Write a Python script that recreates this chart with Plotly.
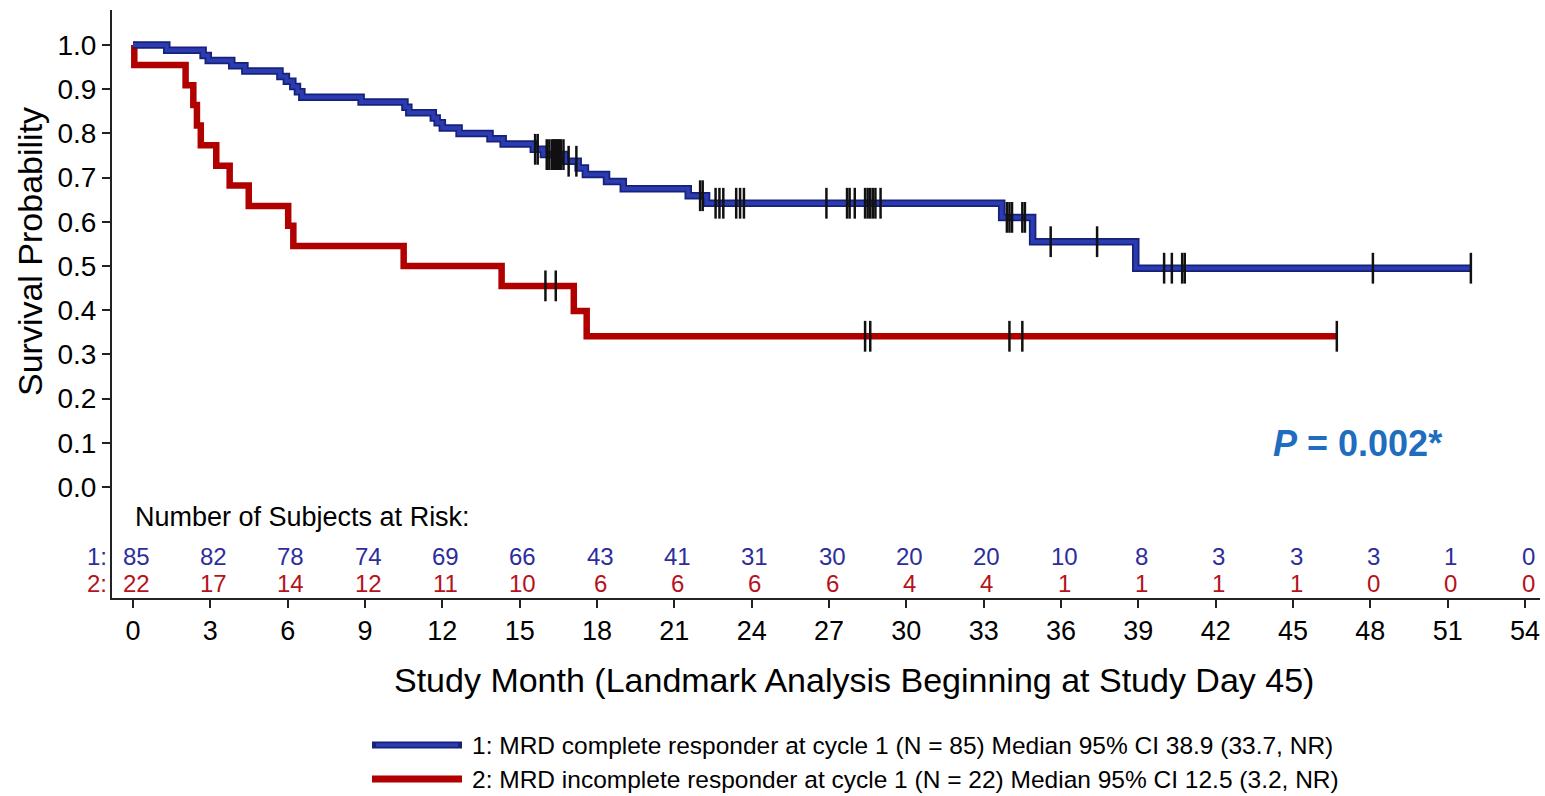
import numpy as np
import plotly.graph_objects as go

# ---------------- data ----------------
# Group 1: MRD complete responder (N=85) - KM step times (months) and survival
g1_times = [0, 1.31, 2.72, 2.92, 3.83, 4.34, 5.70, 5.95, 6.20, 6.38, 6.55, 8.85,
            10.55, 10.70, 11.65, 11.80, 12.00, 12.65, 13.85, 14.36, 15.53, 15.92,
            16.76, 17.27, 17.55, 18.37, 19.02, 21.54, 22.25, 33.70, 34.90, 38.90]
g1_surv = [1.000, 0.988, 0.976, 0.965, 0.953, 0.941, 0.929, 0.918, 0.906, 0.894, 0.882, 0.871,
           0.859, 0.847, 0.835, 0.824, 0.812, 0.800, 0.788, 0.776, 0.764, 0.752,
           0.737, 0.722, 0.707, 0.691, 0.675, 0.659, 0.642, 0.610, 0.555, 0.495]
g1_end = 51.9
g1_censor = [15.6, 15.7, 16.05, 16.15, 16.25, 16.3, 16.35, 16.4, 16.45, 16.5, 16.55, 16.6,
             16.7, 16.9, 17.2, 22.0, 22.1, 22.6, 22.75, 22.9, 23.4, 23.55, 23.7, 26.9,
             27.7, 27.8, 28.0, 28.4, 28.5, 28.6, 28.7, 28.8, 29.0, 33.9, 34.0, 34.1,
             34.5, 34.6, 35.6, 37.4, 40.0, 40.3, 40.7, 40.8, 48.1, 51.9]

# Group 2: MRD incomplete responder (N=22)
g2_times = [0, 0.05, 2.04, 2.34, 2.48, 2.63, 3.23, 3.75, 4.49, 6.02, 6.22, 10.50, 14.30, 17.10, 17.60]
g2_surv = [1.000, 0.955, 0.909, 0.864, 0.818, 0.773, 0.727, 0.682, 0.636, 0.591, 0.545, 0.500,
           0.455, 0.398, 0.341]
g2_end = 46.7
g2_censor = [16.0, 16.4, 28.4, 28.6, 34.0, 34.5, 46.7]

# Number at risk table
risk_months = [0, 3, 6, 9, 12, 15, 18, 21, 24, 27, 30, 33, 36, 39, 42, 45, 48, 51, 54]
risk_g1 = [85, 82, 78, 74, 69, 66, 43, 41, 31, 30, 20, 20, 10, 8, 3, 3, 3, 1, 0]
risk_g2 = [22, 17, 14, 12, 11, 10, 6, 6, 6, 6, 4, 4, 1, 1, 1, 1, 0, 0, 0]

y_ticks = [0.0, 0.1, 0.2, 0.3, 0.4, 0.5, 0.6, 0.7, 0.8, 0.9, 1.0]

legend_g1 = "1: MRD complete responder at cycle 1 (N = 85) Median 95% CI 38.9 (33.7, NR)"
legend_g2 = "2: MRD incomplete responder at cycle 1 (N = 22) Median 95% CI 12.5 (3.2, NR)"
p_text = "<i>P</i> = 0.002*"

# ---------------- styles ----------------
FONT = "Liberation Sans, Arial, Helvetica, sans-serif"
BLUE_DARK = "#17207a"
BLUE = "#2b3cb0"
RED = "#b00000"
BLUE_TXT = "#2d2d9c"
RED_TXT = "#b5121b"
P_BLUE = "#1f6dbf"

W, H = 1545, 796
L, R, T, B = 112, 5, 10, 198
PW, PH = W - L - R, H - T - B


def px_x(px):
    return (px - L) / PW


def px_y(py):
    return (H - B - py) / PH


def step_value(times, surv, t):
    i = np.searchsorted(np.array(times), t, side="right") - 1
    return surv[max(i, 0)]


fig = go.Figure()

# red curve
fig.add_trace(go.Scatter(x=g2_times + [g2_end], y=g2_surv + [g2_surv[-1]], mode="lines",
                         line=dict(color=RED, width=6.5, shape="hv"), showlegend=False,
                         hoverinfo="skip"))
# blue curve (outline + fill)
fig.add_trace(go.Scatter(x=g1_times + [g1_end], y=g1_surv + [g1_surv[-1]], mode="lines",
                         line=dict(color=BLUE_DARK, width=7.5, shape="hv"), showlegend=False,
                         hoverinfo="skip"))
fig.add_trace(go.Scatter(x=g1_times + [g1_end], y=g1_surv + [g1_surv[-1]], mode="lines",
                         line=dict(color=BLUE, width=4, shape="hv"), showlegend=False,
                         hoverinfo="skip"))

# censor marks
for times, surv, cens in [(g2_times, g2_surv, g2_censor), (g1_times, g1_surv, g1_censor)]:
    fig.add_trace(go.Scatter(x=cens, y=[step_value(times, surv, c) for c in cens], mode="markers",
                             marker=dict(symbol="line-ns", size=22,
                                         line=dict(color="#111111", width=2.5)),
                             showlegend=False, hoverinfo="skip"))

RISK_SIZE = 24
ann = []
# risk table
ann.append(dict(x=px_x(133), y=px_y(517), xref="paper", yref="paper", text="Number of Subjects at Risk:",
                showarrow=False, xanchor="left", yanchor="middle",
                font=dict(family=FONT, size=27, color="black")))
ann.append(dict(x=px_x(109), y=px_y(556), xref="paper", yref="paper", text="1:", showarrow=False,
                xanchor="right", yanchor="middle", font=dict(family=FONT, size=RISK_SIZE, color=BLUE_TXT)))
ann.append(dict(x=px_x(109), y=px_y(583), xref="paper", yref="paper", text="2:", showarrow=False,
                xanchor="right", yanchor="middle", font=dict(family=FONT, size=RISK_SIZE, color=RED_TXT)))
for m, a, b in zip(risk_months, risk_g1, risk_g2):
    ann.append(dict(x=m, y=px_y(556), xref="x", yref="paper", text=str(a), showarrow=False,
                    xanchor="center", yanchor="middle", xshift=3,
                    font=dict(family=FONT, size=RISK_SIZE, color=BLUE_TXT)))
    ann.append(dict(x=m, y=px_y(583), xref="x", yref="paper", text=str(b), showarrow=False,
                    xanchor="center", yanchor="middle", xshift=3,
                    font=dict(family=FONT, size=RISK_SIZE, color=RED_TXT)))

# axis titles
ann.append(dict(x=px_x(30), y=px_y(252), xref="paper", yref="paper", text="Survival Probability",
                showarrow=False, textangle=-90, xanchor="center", yanchor="middle",
                font=dict(family=FONT, size=34, color="black")))
ann.append(dict(x=px_x(854), y=px_y(680), xref="paper", yref="paper",
                text="Study Month (Landmark Analysis Beginning at Study Day 45)",
                showarrow=False, xanchor="center", yanchor="middle",
                font=dict(family=FONT, size=34, color="black")))

# p-value
ann.append(dict(x=px_x(1357), y=px_y(443), xref="paper", yref="paper", text="<b>" + p_text + "</b>",
                showarrow=False, xanchor="center", yanchor="middle",
                font=dict(family=FONT, size=36, color=P_BLUE)))

# legend
shapes = []
for py, col, txt in [(745, BLUE_DARK, legend_g1), (779, RED, legend_g2)]:
    shapes.append(dict(type="line", xref="paper", yref="paper", x0=px_x(372), x1=px_x(462),
                       y0=px_y(py), y1=px_y(py), line=dict(color=col, width=7)))
    ann.append(dict(x=px_x(470), y=px_y(py), xref="paper", yref="paper", text=txt, showarrow=False,
                    xanchor="left", yanchor="middle", font=dict(family=FONT, size=24.5, color="black")))
shapes.append(dict(type="line", xref="paper", yref="paper", x0=px_x(376), x1=px_x(458),
                   y0=px_y(745), y1=px_y(745), line=dict(color=BLUE, width=3.5)))

x_scale = (1525 - 133) / 54.0
y_scale = 487 - 45
x_range = [(L - 133) / x_scale, 54 + (L + PW - 1525) / x_scale]
y_range = [-(H - B - 487) / y_scale, 1 + (45 - T) / y_scale]

fig.update_layout(
    width=W, height=H,
    margin=dict(l=L, r=R, t=T, b=B, pad=0),
    paper_bgcolor="white", plot_bgcolor="white",
    font=dict(family=FONT, color="black"),
    annotations=ann, shapes=shapes,
    xaxis=dict(range=x_range, tickvals=risk_months, ticktext=[str(m) for m in risk_months],
               showgrid=False, zeroline=False, showline=True, linecolor="#222", linewidth=2,
               ticks="outside", ticklen=8, tickwidth=1.5, tickcolor="#222",
               tickfont=dict(family=FONT, size=27, color="black")),
    yaxis=dict(range=y_range, tickvals=y_ticks, ticktext=["%.1f" % v for v in y_ticks],
               showgrid=False, zeroline=False, showline=True, linecolor="#222", linewidth=2,
               ticks="outside", ticklen=8, tickwidth=1.5, tickcolor="#222",
               tickfont=dict(family=FONT, size=28, color="black")),
)

fig.write_html("out.html", config={"displayModeBar": False},
               post_script="document.body.style.margin='0';document.body.style.overflow='hidden';")
